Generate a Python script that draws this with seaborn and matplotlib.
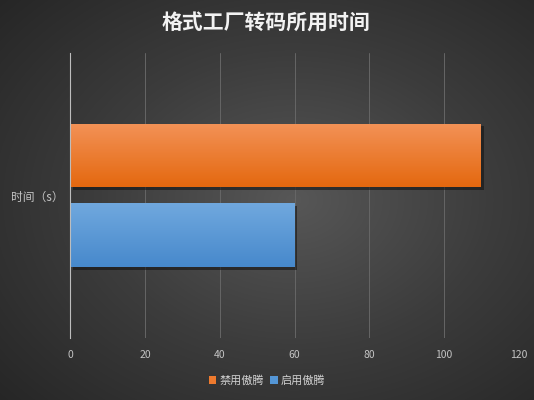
import numpy as np
import pandas as pd
import matplotlib
matplotlib.use("Agg")
import matplotlib.pyplot as plt
import matplotlib.patheffects as pe
from matplotlib.colors import LinearSegmentedColormap
from matplotlib.patches import Patch
import seaborn as sns

# ---- data ----
categories = ["时间（s）"]
series = ["禁用傲腾", "启用傲腾"]
values = [110, 60]
x_ticks = [0, 20, 40, 60, 80, 100, 120]
title = "格式工厂转码所用时间"

colors = {"禁用傲腾": "#EE7A2E", "启用傲腾": "#5496D6"}
grads = {"禁用傲腾": ("#F39257", "#E4680F"), "启用傲腾": ("#70A8DE", "#4789CC")}

sns.set_theme(style="white")
plt.rcParams["font.family"] = ["Noto Sans CJK SC", "DejaVu Sans"]

df = pd.DataFrame({"cat": categories * len(series), "series": series, "value": values})

fig = plt.figure(figsize=(5.34, 4.0), dpi=100)

# background radial gradient
bg = fig.add_axes([0, 0, 1, 1], zorder=-10)
yy, xx = np.mgrid[0:1:400j, 0:1:534j]
r = np.sqrt(((xx - 0.55) / 0.75) ** 2 + ((yy - 0.5) / 0.75) ** 2)
r = np.clip(r, 0, 1)
bgcm = LinearSegmentedColormap.from_list("bg", ["#575757", "#3c3c3c", "#262626"])
bg.imshow(r, cmap=bgcm, aspect="auto", extent=[0, 1, 0, 1], vmin=0, vmax=1)
bg.axis("off")

ax = fig.add_axes([0.132, 0.155, 0.839, 0.713])
ax.patch.set_alpha(0)
sns.barplot(data=df, y="cat", x="value", hue="series", orient="h",
            palette=colors, width=0.56, gap=0.2, ax=ax, legend=False,
            saturation=1, edgecolor="none", linewidth=0)

# gradient overlay + shadow on bars
grad = np.linspace(0, 1, 100).reshape(-1, 1)
for patch, s in zip(ax.patches, series):
    bb = patch.get_bbox()
    cm = LinearSegmentedColormap.from_list(s, list(grads[s]))
    patch.set_path_effects([pe.SimplePatchShadow(offset=(2, -2), alpha=0.55,
                                                 shadow_rgbFace="#111111"),
                            pe.Normal()])
    im = ax.imshow(grad, cmap=cm, aspect="auto",
                   extent=[bb.x0, bb.x1, max(bb.y0, bb.y1), min(bb.y0, bb.y1)],
                   zorder=patch.get_zorder() + 0.1)
    im.set_clip_path(patch)

ax.set_xlim(0, 120)
ax.set_ylim(0.5, -0.5)
ax.set_xticks(x_ticks)
ax.set_xticklabels([str(t) for t in x_ticks])
ax.grid(axis="x", color="#666666", lw=0.7)
ax.set_axisbelow(True)
for sp in ["top", "right", "bottom"]:
    ax.spines[sp].set_visible(False)
ax.spines["left"].set_color("#bdbdbd")
ax.spines["left"].set_linewidth(0.8)
ax.tick_params(axis="both", length=0, colors="#c4c4c4", labelsize=7.5)
ax.tick_params(axis="x", pad=9)
ax.tick_params(axis="y", pad=5, labelsize=8.5)
ax.set_xlabel("")
ax.set_ylabel("")

fig.text(0.498, 0.943, title, ha="center", va="center", color="#f2f2f2",
         fontsize=15, fontweight="bold")

handles = [Patch(facecolor=colors[s], edgecolor="none", label=s) for s in series]
leg = fig.legend(handles=handles, loc="center", bbox_to_anchor=(0.5, 0.048),
                 ncol=2, frameon=False, handlelength=0.7, handleheight=0.7,
                 handletextpad=0.3, columnspacing=0.5, fontsize=8)
for t in leg.get_texts():
    t.set_color("#d0d0d0")

fig.savefig("out.png", dpi=100)
